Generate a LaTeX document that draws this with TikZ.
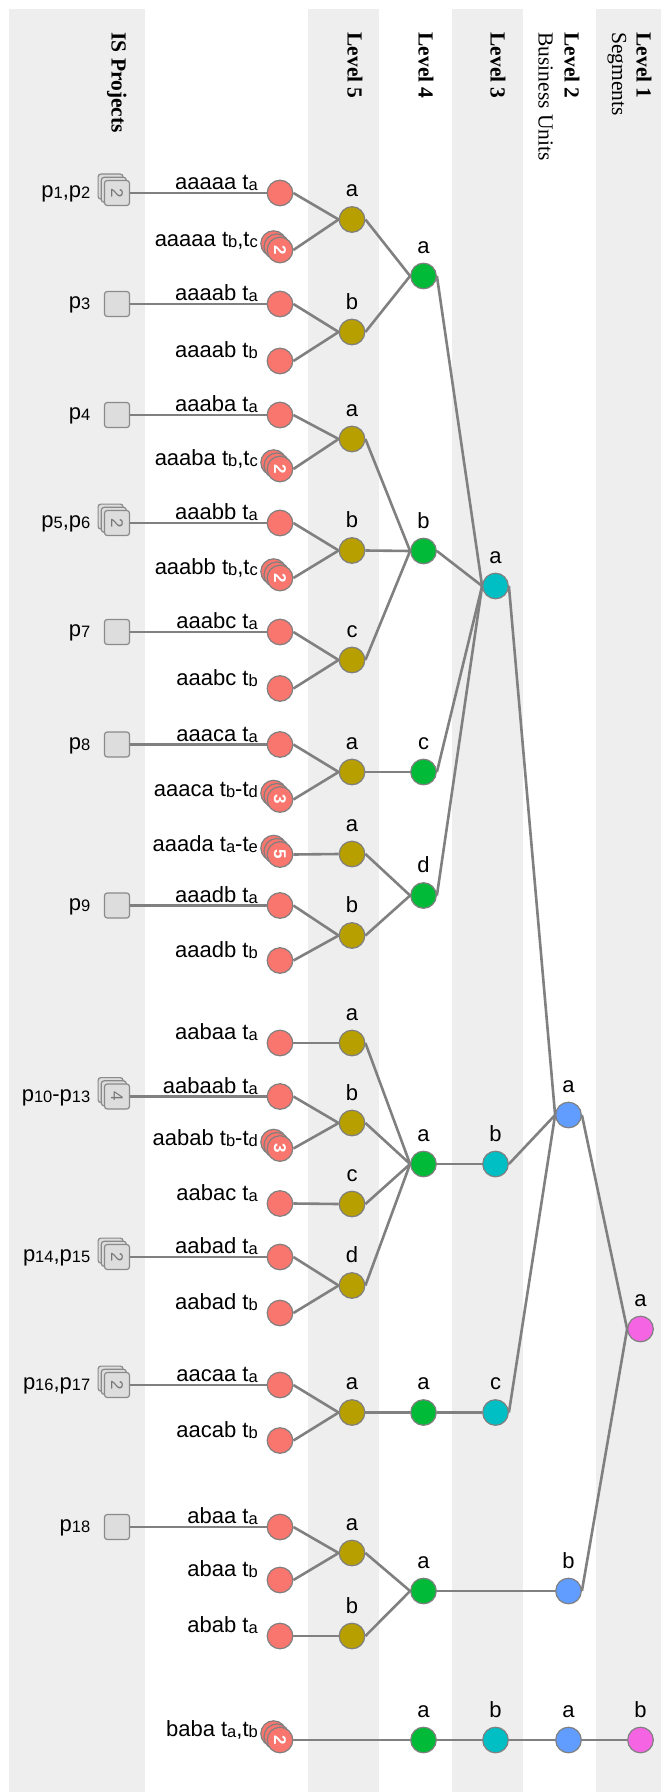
\documentclass[tikz,border=0pt]{standalone}
\usepackage{fontspec}
\setmainfont{Liberation Serif}
\setsansfont{Liberation Sans}
\usetikzlibrary{backgrounds,shadows}
\definecolor{bandgray}{HTML}{EEEEEE}
\definecolor{linkgray}{HTML}{808080}
\definecolor{projfill}{HTML}{DDDDDD}
\definecolor{projline}{HTML}{8A8A8A}
\definecolor{projnum}{HTML}{777777}
\definecolor{leafred}{HTML}{F8766D}
\definecolor{lvlfive}{HTML}{B79F00}
\definecolor{lvlfour}{HTML}{00BA38}
\definecolor{lvlthree}{HTML}{00BFC4}
\definecolor{lvltwo}{HTML}{619CFF}
\definecolor{lvlone}{HTML}{F564E3}
% small index after t and p
\newcommand{\tsub}[1]{\raisebox{-0.4pt}{\fontsize{8.25}{9}\selectfont #1}}
% count shown on a pile
\newcommand{\cnt}[1]{\rotatebox{-90}{#1}}

\begin{document}
\begin{tikzpicture}[x=0.5pt, y=-0.5pt,
  hub/.style={circle, draw=linkgray, line width=0.6pt, minimum size=12.8pt, inner sep=0pt},
  leaf/.style={hub, fill=leafred},
  pile/.style={copy shadow={shadow xshift=-3.2pt, shadow yshift=3.2pt},
               copy shadow={shadow xshift=-1.6pt, shadow yshift=1.6pt}},
  leafpile/.style={leaf, pile, text=white, font=\sffamily\bfseries\fontsize{8.5}{8.5}\selectfont},
  proj/.style={rectangle, rounded corners=1.4pt, draw=projline, fill=projfill, line width=0.6pt,
               minimum size=12.5pt, inner sep=0pt},
  projpile/.style={proj, pile, text=projnum, font=\sffamily\fontsize{8.5}{8.5}\selectfont},
  code/.style={font=\sffamily\fontsize{11}{13}\selectfont, text=black, inner sep=0pt},
  tag/.style={code, anchor=base east, xshift=-4.2pt, yshift=1.6pt},
  ptag/.style={code, xshift=-6.6pt, yshift=-0.6pt},
  lvl/.style={code, yshift=4.3pt},
  head/.style={rotate=-90, anchor=base west, inner sep=0pt, font=\rmfamily\bfseries\fontsize{10.75}{13}\selectfont},
  headsub/.style={head, font=\rmfamily\fontsize{10.75}{13}\selectfont},
  link/.style={draw=linkgray, line width=1.3pt}]
\useasboundingbox (0,0) rectangle (661,1792);

% column bands
\begin{scope}[on background layer]
\fill[bandgray] (9,9) rectangle (145,1792);
\fill[bandgray] (308,9) rectangle (379,1792);
\fill[bandgray] (452,9) rectangle (523,1792);
\fill[bandgray] (596,9) rectangle (661,1792);
\end{scope}

% headers
\node[head] (hproj) at (111.5,32) {IS Projects};
\node[head] (h5) at (347.5,32) {Level 5};
\node[head] (h4) at (418.5,32) {Level 4};
\node[head] (h3) at (490.5,32) {Level 3};
\node[head] (h2) at (564.5,32) {Level 2};
\node[headsub] (h2s) at (538.5,32) {Business Units};
\node[head] (h1) at (636.5,32) {Level 1};
\node[headsub] (h1s) at (612,32) {Segments};

% IS projects
\node[projpile, label={[ptag]left:p\tsub{1},p\tsub{2}}] (pr1) at (117,193) {\cnt{2}};
\node[proj, label={[ptag]left:p\tsub{3}}] (pr3) at (117,304) {};
\node[proj, label={[ptag]left:p\tsub{4}}] (pr4) at (117,415) {};
\node[projpile, label={[ptag]left:p\tsub{5},p\tsub{6}}] (pr5) at (117,523) {\cnt{2}};
\node[proj, label={[ptag]left:p\tsub{7}}] (pr7) at (117,632) {};
\node[proj, label={[ptag]left:p\tsub{8}}] (pr8) at (117,744.5) {};
\node[proj, label={[ptag]left:p\tsub{9}}] (pr9) at (117,905.5) {};
\node[projpile, label={[ptag]left:p\tsub{10}-p\tsub{13}}] (pr10) at (117,1096.5) {\cnt{4}};
\node[projpile, label={[ptag]left:p\tsub{14},p\tsub{15}}] (pr14) at (117,1257) {\cnt{2}};
\node[projpile, label={[ptag]left:p\tsub{16},p\tsub{17}}] (pr16) at (117,1385) {\cnt{2}};
\node[proj, label={[ptag]left:p\tsub{18}}] (pr18) at (117,1527) {};

% leaves
\node[leaf, label={[tag]left:aaaaa t\tsub{a}}] (lf1) at (280,193) {};
\node[leafpile, label={[tag]left:aaaaa t\tsub{b},t\tsub{c}}] (lf2) at (280,250) {\cnt{2}};
\node[leaf, label={[tag]left:aaaab t\tsub{a}}] (lf3) at (280,304) {};
\node[leaf, label={[tag]left:aaaab t\tsub{b}}] (lf4) at (280,361) {};
\node[leaf, label={[tag]left:aaaba t\tsub{a}}] (lf5) at (280,415) {};
\node[leafpile, label={[tag]left:aaaba t\tsub{b},t\tsub{c}}] (lf6) at (280,469) {\cnt{2}};
\node[leaf, label={[tag]left:aaabb t\tsub{a}}] (lf7) at (280,523) {};
\node[leafpile, label={[tag]left:aaabb t\tsub{b},t\tsub{c}}] (lf8) at (280,578) {\cnt{2}};
\node[leaf, label={[tag]left:aaabc t\tsub{a}}] (lf9) at (280,632) {};
\node[leaf, label={[tag]left:aaabc t\tsub{b}}] (lf10) at (280,688.5) {};
\node[leaf, label={[tag]left:aaaca t\tsub{a}}] (lf11) at (280,744.5) {};
\node[leafpile, label={[tag]left:aaaca t\tsub{b}-t\tsub{d}}] (lf12) at (280,799.5) {\cnt{3}};
\node[leafpile, label={[tag]left:aaada t\tsub{a}-t\tsub{e}}] (lf13) at (280,854.5) {\cnt{5}};
\node[leaf, label={[tag]left:aaadb t\tsub{a}}] (lf14) at (280,905.5) {};
\node[leaf, label={[tag]left:aaadb t\tsub{b}}] (lf15) at (280,960.5) {};
\node[leaf, label={[tag]left:aabaa t\tsub{a}}] (lf16) at (280,1043) {};
\node[leaf, label={[tag]left:aabaab t\tsub{a}}] (lf17) at (280,1096.5) {};
\node[leafpile, label={[tag]left:aabab t\tsub{b}-t\tsub{d}}] (lf18) at (280,1148.5) {\cnt{3}};
\node[leaf, label={[tag]left:aabac t\tsub{a}}] (lf19) at (280,1203.5) {};
\node[leaf, label={[tag]left:aabad t\tsub{a}}] (lf20) at (280,1257) {};
\node[leaf, label={[tag]left:aabad t\tsub{b}}] (lf21) at (280,1313) {};
\node[leaf, label={[tag]left:aacaa t\tsub{a}}] (lf22) at (280,1385) {};
\node[leaf, label={[tag]left:aacab t\tsub{b}}] (lf23) at (280,1440.5) {};
\node[leaf, label={[tag]left:abaa t\tsub{a}}] (lf24) at (280,1527) {};
\node[leaf, label={[tag]left:abaa t\tsub{b}}] (lf25) at (280,1580) {};
\node[leaf, label={[tag]left:abab t\tsub{a}}] (lf26) at (280,1636) {};
\node[leafpile, label={[tag]left:baba t\tsub{a},t\tsub{b}}] (lf27) at (280,1740) {\cnt{2}};

% level 5
\node[hub, fill=lvlfive, label={[lvl]above:a}] (v5a1) at (352,219.5) {};
\node[hub, fill=lvlfive, label={[lvl]above:b}] (v5b1) at (352,332) {};
\node[hub, fill=lvlfive, label={[lvl]above:a}] (v5a2) at (352,439) {};
\node[hub, fill=lvlfive, label={[lvl]above:b}] (v5b2) at (352,550.5) {};
\node[hub, fill=lvlfive, label={[lvl]above:c}] (v5c1) at (352,660) {};
\node[hub, fill=lvlfive, label={[lvl]above:a}] (v5a3) at (352,772) {};
\node[hub, fill=lvlfive, label={[lvl]above:a}] (v5a4) at (352,854) {};
\node[hub, fill=lvlfive, label={[lvl]above:b}] (v5b3) at (352,935.5) {};
\node[hub, fill=lvlfive, label={[lvl]above:a}] (v5a5) at (352,1043) {};
\node[hub, fill=lvlfive, label={[lvl]above:b}] (v5b4) at (352,1123) {};
\node[hub, fill=lvlfive, label={[lvl]above:c}] (v5c2) at (352,1204) {};
\node[hub, fill=lvlfive, label={[lvl]above:d}] (v5d1) at (352,1285.5) {};
\node[hub, fill=lvlfive, label={[lvl]above:a}] (v5a6) at (352,1412.5) {};
\node[hub, fill=lvlfive, label={[lvl]above:a}] (v5a7) at (352,1553) {};
\node[hub, fill=lvlfive, label={[lvl]above:b}] (v5b5) at (352,1636) {};

% level 4
\node[hub, fill=lvlfour, label={[lvl]above:a}] (v4a1) at (423.5,276) {};
\node[hub, fill=lvlfour, label={[lvl]above:b}] (v4b1) at (423.5,551) {};
\node[hub, fill=lvlfour, label={[lvl]above:c}] (v4c1) at (423.5,772) {};
\node[hub, fill=lvlfour, label={[lvl]above:d}] (v4d1) at (423.5,895.5) {};
\node[hub, fill=lvlfour, label={[lvl]above:a}] (v4a2) at (423.5,1164) {};
\node[hub, fill=lvlfour, label={[lvl]above:a}] (v4a3) at (423.5,1412.5) {};
\node[hub, fill=lvlfour, label={[lvl]above:a}] (v4a4) at (423.5,1591) {};
\node[hub, fill=lvlfour, label={[lvl]above:a}] (v4a5) at (423.5,1740) {};

% level 3
\node[hub, fill=lvlthree, label={[lvl]above:a}] (v3a1) at (495.5,586) {};
\node[hub, fill=lvlthree, label={[lvl]above:b}] (v3b1) at (495.5,1164) {};
\node[hub, fill=lvlthree, label={[lvl]above:c}] (v3c1) at (495.5,1412.5) {};
\node[hub, fill=lvlthree, label={[lvl]above:b}] (v3b2) at (495.5,1740) {};

% level 2 and level 1
\node[hub, fill=lvltwo, label={[lvl]above:a}] (v2a1) at (568.5,1115) {};
\node[hub, fill=lvltwo, label={[lvl]above:b}] (v2b1) at (568.5,1591) {};
\node[hub, fill=lvltwo, label={[lvl]above:a}] (v2a2) at (568.5,1740) {};
\node[hub, fill=lvlone, label={[lvl]above:a}] (v1a1) at (640.5,1329) {};
\node[hub, fill=lvlone, label={[lvl]above:b}] (v1b1) at (640.5,1740) {};

% links, child east to parent west
\begin{scope}[on background layer]
\foreach \c/\p in {pr1/lf1, pr3/lf3, pr4/lf5, pr5/lf7, pr7/lf9, pr8/lf11, pr9/lf14,
    pr10/lf17, pr14/lf20, pr16/lf22, pr18/lf24,
    lf1/v5a1, lf2/v5a1, lf3/v5b1, lf4/v5b1, lf5/v5a2, lf6/v5a2, lf7/v5b2, lf8/v5b2,
    lf9/v5c1, lf10/v5c1, lf11/v5a3, lf12/v5a3, lf13/v5a4, lf14/v5b3, lf15/v5b3,
    lf16/v5a5, lf17/v5b4, lf18/v5b4, lf19/v5c2, lf20/v5d1, lf21/v5d1, lf22/v5a6,
    lf23/v5a6, lf24/v5a7, lf25/v5a7, lf26/v5b5, lf27/v4a5,
    v5a1/v4a1, v5b1/v4a1, v5a2/v4b1, v5b2/v4b1, v5c1/v4b1, v5a3/v4c1, v5a4/v4d1,
    v5b3/v4d1, v5a5/v4a2, v5b4/v4a2, v5c2/v4a2, v5d1/v4a2, v5a6/v4a3, v5a7/v4a4,
    v5b5/v4a4,
    v4a1/v3a1, v4b1/v3a1, v4c1/v3a1, v4d1/v3a1, v4a2/v3b1, v4a3/v3c1, v4a5/v3b2,
    v4a4/v2b1,
    v3a1/v2a1, v3b1/v2a1, v3c1/v2a1, v3b2/v2a2,
    v2a1/v1a1, v2b1/v1a1, v2a2/v1b1}
  \draw[link] (\c.east) -- (\p.west);
\end{scope}
\end{tikzpicture}
\end{document}
